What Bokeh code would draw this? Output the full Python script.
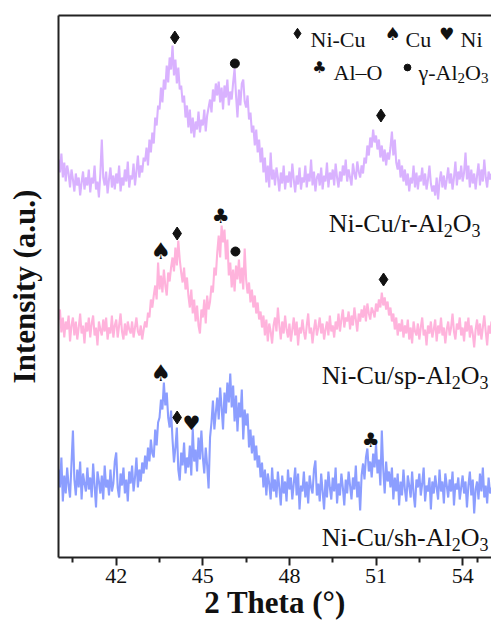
from bokeh.plotting import figure
from bokeh.models import Range1d, FixedTicker, LinearAxis
from bokeh.core.properties import value
from bokeh.embed import file_html
from bokeh.resources import INLINE

# ---------------- data ----------------
scan_start, scan_step, n_points = 40.0, 0.05, 301
two_theta = [round(scan_start + scan_step * i, 2) for i in range(n_points)]

# Ni-Cu/r-Al2O3 (top trace, offset intensity)
r_al2o3 = [
    398, 385, 404, 380, 395, 376, 392, 384, 370, 388,
    378, 366, 384, 372, 380, 362, 375, 386, 368, 380,
    372, 388, 365, 380, 374, 392, 368, 376, 360, 384,
    418, 380, 372, 386, 364, 378, 390, 370, 382, 368,
    384, 374, 392, 366, 380, 372, 388, 376, 396, 370,
    382, 378, 394, 372, 386, 402, 380, 392, 385, 400,
    396, 410, 392, 418, 405, 425, 414, 440, 432, 452,
    448, 470, 455, 478, 468, 492, 475, 500, 488, 512,
    482, 498, 474, 490, 468, 472, 455, 462, 440, 452,
    430, 448, 424, 440, 420, 436, 428, 446, 425, 438,
    432, 448, 426, 442, 450, 458, 445, 468, 456, 474,
    462, 476, 455, 470, 448, 472, 460, 478, 452, 466,
    458, 475, 489, 462, 440, 468, 452, 474, 478, 456,
    450, 462, 438, 445, 425, 432, 412, 428, 405, 418,
    395, 410, 385, 400, 375, 392, 370, 405, 378, 388,
    372, 390, 380, 366, 385, 374, 392, 368, 382, 375,
    386, 370, 394, 378, 365, 382, 373, 390, 368, 380,
    375, 392, 370, 384, 376, 398, 372, 386, 366, 380,
    384, 372, 390, 368, 382, 376, 395, 370, 385, 378,
    388, 372, 394, 380, 370, 386, 376, 392, 382, 398,
    376, 388, 380, 372, 394, 384, 378, 396, 386, 380,
    392, 384, 400, 394, 412, 402, 420, 410, 428, 415,
    422, 408, 418, 400, 412, 396, 408, 392, 405, 398,
    410, 426, 402, 418, 395, 388, 398, 380, 392, 376,
    388, 372, 384, 366, 380, 374, 392, 370, 385, 368,
    382, 376, 390, 372, 384, 368, 378, 392, 374, 366,
    372, 362, 380, 358, 376, 386, 370, 382, 368, 378,
    390, 374, 384, 368, 380, 396, 372, 386, 378, 392,
    376, 385, 405, 378, 392, 370, 388, 374, 384, 368,
    382, 394, 372, 388, 376, 398, 380, 370, 386, 378,
    384,
]

# Ni-Cu/sp-Al2O3 (middle trace)
sp_al2o3 = [
    238, 248, 225, 240, 220, 236, 228, 242, 216, 232,
    240, 222, 236, 218, 230, 244, 224, 232, 214, 235,
    226, 240, 220, 234, 242, 222, 230, 212, 236, 228,
    222, 238, 226, 240, 218, 230, 224, 242, 220, 232,
    238, 220, 232, 244, 226, 218, 234, 222, 236, 228,
    224, 236, 220, 230, 240, 226, 222, 232, 218, 228,
    236, 230, 245, 240, 258, 250, 262, 272, 258, 295,
    268, 282, 265, 288, 272, 262, 285, 276, 290, 300,
    286, 310, 292, 317, 298, 285, 275, 290, 268, 280,
    262, 250, 268, 244, 258, 236, 252, 232, 224, 248,
    240, 258, 234, 262, 248, 256, 272, 265, 290, 282,
    305, 322, 300, 332, 315, 328, 298, 318, 282, 295,
    270, 288, 266, 292, 278, 298, 274, 290, 268, 309,
    278, 264, 275, 255, 268, 250, 262, 244, 255, 238,
    246, 230, 242, 222, 238, 216, 234, 226, 214, 232,
    240, 226, 250, 232, 218, 236, 224, 242, 228, 220,
    234, 216, 228, 240, 222, 236, 212, 230, 224, 238,
    226, 218, 232, 244, 224, 230, 214, 228, 238, 222,
    230, 240, 224, 234, 218, 228, 236, 222, 242, 226,
    232, 220, 236, 228, 244, 226, 238, 248, 230, 240,
    236, 246, 228, 242, 232, 250, 238, 226, 244, 236,
    248, 240, 252, 236, 254, 244, 238, 250, 246, 240,
    254, 246, 258, 250, 265, 252, 260, 248, 256, 242,
    250, 236, 244, 228, 240, 222, 234, 226, 238, 220,
    232, 224, 238, 218, 230, 214, 236, 226, 222, 234,
    218, 230, 240, 222, 228, 212, 232, 224, 236, 220,
    228, 238, 216, 232, 224, 240, 222, 230, 214, 228,
    236, 222, 230, 244, 226, 218, 234, 228, 240, 222,
    230, 216, 236, 226, 240, 220, 232, 224, 210, 228,
    238, 222, 234, 218, 230, 242, 226, 212, 232, 224,
    236,
]

# Ni-Cu/sh-Al2O3 (bottom trace)
sh_al2o3 = [
    88, 70, 100, 56, 82, 64, 90, 72, 60, 94,
    127, 78, 62, 88, 70, 96, 58, 84, 74, 66,
    90, 68, 80, 60, 94, 72, 50, 86, 76, 64,
    82, 58, 92, 70, 78, 62, 88, 66, 74, 96,
    105, 70, 60, 84, 72, 90, 64, 78, 56, 86,
    74, 92, 66, 80, 100, 70, 88, 76, 95, 84,
    102, 88, 110, 96, 118, 104, 100, 128, 112, 135,
    140, 158, 148, 175, 152, 165, 140, 130, 147, 118,
    95, 110, 130, 88, 77, 105, 92, 115, 84, 100,
    90, 112, 82, 129, 96, 108, 86, 120, 98, 127,
    100, 84, 110, 92, 69, 120, 135, 157, 128, 145,
    160, 138, 170, 150, 128, 165, 144, 175, 155, 184,
    150, 172, 136, 162, 126, 155, 140, 168, 118, 148,
    132, 144, 110, 128, 104, 122, 97, 112, 90, 102,
    80, 95, 70, 88, 62, 84, 74, 58, 90, 66,
    78, 60, 86, 70, 52, 82, 64, 76, 56, 88,
    68, 80, 58, 74, 90, 62, 84, 48, 72, 66,
    86, 60, 76, 54, 82, 70, 64, 88, 97, 62,
    74, 56, 84, 66, 48, 78, 60, 86, 70, 58,
    80, 66, 90, 54, 74, 62, 84, 70, 52, 78,
    64, 86, 72, 58, 80, 68, 92, 60, 76, 47,
    82, 94, 78, 100, 109, 86, 96, 80, 104, 90,
    114, 84, 98, 72, 127, 88, 64, 96, 76, 86,
    70, 90, 58, 80, 66, 84, 52, 76, 62, 88,
    68, 56, 82, 72, 60, 86, 64, 50, 78, 70,
    84, 62, 74, 90, 56, 72, 66, 80, 48, 76,
    64, 82, 70, 58, 88, 66, 76, 54, 84, 72,
    60, 78, 66, 86, 52, 74, 68, 80, 58, 70,
    82, 64, 76, 50, 72, 86, 62, 78, 44, 68,
    76, 58, 84, 66, 90, 60, 72, 54, 80, 64,
    70,
]

x_ticks = [42, 45, 48, 51, 54]
x_minor = [40.5, 43.5, 46.5, 49.5, 52.5, 54.5]

# peak assignments: (2theta, marker height, symbol)
peak_marks = [
    (44.03, 520, "diamond"), (46.11, 494, "dot"), (51.17, 442, "diamond"),
    (43.54, 307, "spade"), (44.11, 324, "diamond"), (45.62, 342, "club"),
    (46.13, 306, "dot"), (51.26, 278, "diamond"),
    (43.54, 185, "spade"), (44.11, 140, "diamond"), (44.61, 135, "heart"),
    (50.82, 118, "club"),
]

colors = {"r": "#D9B2FF", "sp": "#FFB3DC", "sh": "#8C9EFF"}
SERIF = "Liberation Serif"
INK = "#111111"

# ---------------- figure ----------------
p = figure(width=491, height=627, x_range=Range1d(40, 55), y_range=Range1d(0, 542),
           output_backend="svg", toolbar_location=None,
           min_border_left=58, min_border_top=15, min_border_right=0, min_border_bottom=70)
p.outline_line_color = None
p.grid.visible = False
p.background_fill_color = "white"
p.border_fill_color = "white"

p.line(two_theta, r_al2o3, line_color=colors["r"], line_width=2.1)
p.line(two_theta, sp_al2o3, line_color=colors["sp"], line_width=2.1)
p.line(two_theta, sh_al2o3, line_color=colors["sh"], line_width=2.1)

# axes
xa = p.xaxis[0]
xa.ticker = FixedTicker(ticks=x_ticks, minor_ticks=x_minor)
xa.axis_line_width = 2
xa.axis_line_color = "#222222"
xa.major_tick_line_width = 2
xa.minor_tick_line_width = 2
xa.major_tick_line_color = "#222222"
xa.minor_tick_line_color = "#222222"
xa.major_tick_in = 0
xa.major_tick_out = 8
xa.minor_tick_in = 0
xa.minor_tick_out = 5
xa.major_label_text_font = SERIF
xa.major_label_text_font_size = "22px"
xa.major_label_text_color = INK
xa.major_label_standoff = 3
xa.axis_label = "2 Theta (°)"
xa.axis_label_text_font = SERIF
xa.axis_label_text_font_style = "bold"
xa.axis_label_text_font_size = "31px"
xa.axis_label_text_color = INK
xa.axis_label_standoff = -1

ya = p.yaxis[0]
ya.ticker = FixedTicker(ticks=[])
ya.axis_line_width = 2
ya.axis_line_color = "#222222"
ya.major_tick_out = 0
ya.major_tick_in = 0
ya.minor_tick_out = 0
ya.minor_tick_in = 0
ya.major_label_text_font_size = "0px"
ya.axis_label = "Intensity (a.u.)"
ya.axis_label_text_font = SERIF
ya.axis_label_text_font_style = "bold"
ya.axis_label_text_font_size = "31px"
ya.axis_label_text_color = INK
ya.axis_label_standoff = 17

top = LinearAxis(ticker=FixedTicker(ticks=[]), axis_line_width=2, axis_line_color="#222222",
                 major_tick_out=0, major_tick_in=0, minor_tick_out=0, minor_tick_in=0,
                 major_label_text_font_size="0px")
p.add_layout(top, "above")


def px2x(px):
    return 40 + (px - 58) * 15 / 433


def put(px, h, s, size, align="left", baseline="alphabetic", font=SERIF):
    p.text(x=[px2x(px)], y=[h], text=[s], text_font=value(font),
           text_font_size=value(f"{size}px"), text_align=align,
           text_baseline=baseline, text_color=INK)


SUIT = {"spade": "\u2660", "heart": "\u2665", "club": "\u2663"}
SUIT_SIZE = {"spade": 23, "heart": 20, "club": 20}


def mark(x, h, kind, scale=1.0):
    if kind == "diamond":
        p.scatter([x], [h], marker="diamond", size=13 * scale, color=INK)
    elif kind == "dot":
        p.scatter([x], [h], marker="circle", size=9 * scale, color=INK)
    else:
        p.text(x=[x], y=[h], text=[SUIT[kind]], text_font=value("DejaVu Sans"),
               text_font_size=value(f"{SUIT_SIZE[kind] * scale:.0f}px"), text_align="center",
               text_baseline="middle", text_color=INK)


for x, h, kind in peak_marks:
    mark(x, h, kind)

# legend of phase symbols
mark(px2x(297), 524, "diamond", 0.8)
put(310, 518, "Ni-Cu", 22)
mark(px2x(392), 524, "spade", 0.78)
put(405, 518, "Cu", 22)
mark(px2x(446), 524, "heart", 0.85)
put(460, 518, "Ni", 22)
mark(px2x(319), 490, "club", 0.8)
put(333, 485, "Al\u2013O", 22)
mark(px2x(407), 490, "dot", 0.75)


def formula(end_px, h, main, size):
    sub = round(size * 0.7)
    w_sub = 0.5 * sub
    w_o = 0.722 * size
    drop = size * 0.27
    put(end_px, h - drop, "3", sub, align="right")
    put(end_px - w_sub, h, "O", size, align="right")
    put(end_px - w_sub - w_o, h - drop, "2", sub, align="right")
    put(end_px - 2 * w_sub - w_o, h, main, size, align="right")


formula(488, 485, "\u03b3-Al", 22)
formula(480, 334, "Ni-Cu/r-Al", 26)
formula(488, 182, "Ni-Cu/sp-Al", 26)
formula(488, 20, "Ni-Cu/sh-Al", 26)

open("out.html", "w").write(file_html(p, INLINE))
